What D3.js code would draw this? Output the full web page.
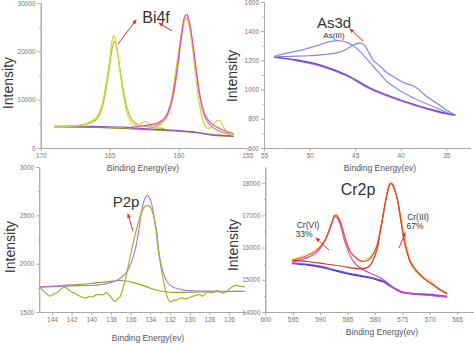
<!DOCTYPE html>
<html>
<head>
<meta charset="utf-8">
<script src="https://cdn.jsdelivr.net/npm/d3@7"></script>
<style>
  body { margin: 0; background: #fff; }
  svg { display: block; font-family: "Liberation Sans", Arial, sans-serif; }
  .axis .domain, .axis line { stroke: #aaa; stroke-width: 1; }
  .axis text { fill: #777; font-size: 6.5px; }
  .ytitle { fill: #333; font-size: 14px; }
  .xtitle { fill: #555; font-size: 8.5px; }
</style>
</head>
<body>
<svg id="chart" width="474" height="344"></svg>
<script>
// ---- Bi4f (top left) ----
const biRaw = [[169,4300],[168,4500],[167,4800],[166.5,5300],[166,6200],[165.6,8500],[165.3,12500],[165,18000],[164.8,22500],[164.7,23300],[164.55,22000],[164.3,17000],[164,11000],[163.7,7000],[163.4,5200],[163.1,4700],[162.8,4900],[162.5,5500],[162.2,5200],[161.9,4500],[161.6,4300],[161.3,4800],[161,6000],[160.6,9000],[160.3,14000],[160,20000],[159.7,25000],[159.5,26800],[159.35,26500],[159.1,23000],[158.8,16000],[158.5,9500],[158.2,5500],[157.9,4100],[157.6,4300],[157.3,5500],[157,5700],[156.7,4200],[156.4,3000],[156,2600]];
const biFit1 = [[169,4400],[167.5,4600],[166.5,5100],[166,5800],[165.6,7800],[165.3,11500],[165,17000],[164.8,20800],[164.65,22000],[164.5,21000],[164.3,17300],[164,12000],[163.7,8000],[163.3,5600],[162.8,4700],[162,4300],[161,4000]];
const biFit2 = [[163.5,4300],[162.5,4600],[161.5,5200],[161,6200],[160.6,8600],[160.3,12600],[160,18500],[159.75,24000],[159.55,27200],[159.4,27600],[159.25,26600],[159,22500],[158.7,16000],[158.4,10200],[158.1,7000],[157.7,5300],[157.2,4300],[156.5,3400],[156,3000]];
const biFit2b = [[162,4200],[161,5800],[160.6,8300],[160.3,12000],[160,18000],[159.75,23500],[159.55,26500],[159.4,26900],[159.25,26000],[159,22000],[158.7,15500],[158.4,9800],[158.1,6500],[157.7,4700],[157.2,3700],[156.5,3000],[156,2700]];
const biBg1 = [[169,4500],[167,4500],[165,4400],[164,4300],[163,4100],[162,3900],[161,3750],[160,3600],[159,3400],[158,2950],[157,2650],[156,2500]];
const biBg2 = [[169,4350],[166,4250],[164.5,4100],[163,3900],[161,3650],[160,3500],[158.5,3100],[157.5,2600],[156,2400]];

// ---- As3d (top right) ----
const asRaw = [[53.9,1225],[52,1228],[50,1232],[48.5,1240],[47,1252],[46,1275],[45.5,1295],[44.8,1315],[44.4,1318],[44,1305],[43.5,1255],[43,1200],[42.2,1157],[41.5,1115],[40.7,1085],[39.6,1045],[38.7,1028],[38,1000],[37.4,965],[36.5,925],[36,905],[35,860],[34,826]];
const asFit = [[53.9,1228],[52.5,1250],[50.6,1275],[49,1305],[47.8,1328],[46.8,1335],[46,1325],[45.1,1296],[44.3,1250],[43.3,1180],[42.3,1110],[41.5,1054],[40.5,1010],[39.6,975],[38,925],[36,872],[35,845],[34,826]];
const asBg1 = [[53.9,1225],[51.4,1203],[48.8,1168],[45.9,1100],[43.3,1009],[40,929],[36,853],[34,826]];
const asBg2 = [[53.9,1220],[51.4,1197],[48.8,1161],[45.9,1093],[43.3,1002],[40,922],[36,847],[34,821]];

// ---- P2p (bottom left) ----
const pRaw = [[145.2,1758],[144.7,1700],[144.2,1665],[143.8,1690],[143.5,1700],[143.1,1735],[142.7,1758],[142.3,1730],[142,1706],[141.6,1690],[141.2,1665],[140.6,1644],[140.2,1660],[139.9,1655],[139.6,1672],[139.3,1679],[138.8,1679],[138.5,1700],[138.3,1689],[137.9,1640],[137.6,1610],[137.3,1640],[137.1,1655],[136.7,1775],[136.3,1947],[135.8,2189],[135.1,2465],[134.6,2586],[134.2,2603],[133.9,2568],[133.4,2362],[133.1,2086],[132.7,1844],[132.2,1637],[131.9,1603],[131.6,1625],[131.4,1620],[130.9,1644],[130.4,1637],[129.9,1655],[129.4,1672],[129,1680],[128.7,1665],[128.2,1706],[127.7,1700],[127.3,1720],[127,1713],[126.6,1695],[126.3,1706],[125.7,1758],[125.3,1775],[124.8,1765],[124.4,1760]];
const pFit = [[145.2,1760],[142,1770],[139.1,1782],[137.4,1827],[136.8,1870],[136.3,1930],[135.6,2120],[135.2,2330],[134.9,2534],[134.6,2660],[134.3,2706],[134,2660],[133.7,2534],[133.4,2330],[133.2,2155],[132.7,1913],[132.2,1800],[131.7,1758],[130.4,1724],[128,1715],[125.3,1713],[124.4,1712]];
const pComp = [[145.2,1758],[142,1780],[140,1795],[138.5,1812],[137.2,1826],[136.3,1818],[135.5,1798],[134.5,1765],[133.5,1730],[132.7,1712],[131.5,1704],[129,1707],[125.3,1713],[124.4,1714]];

// ---- Cr2p (bottom right) ----
const crEnv = [[595.1,15600],[593,15705],[590.6,15912],[589.1,16222],[588.3,16550],[587.8,16791],[587.4,16980],[587,16990],[586.3,16791],[585.7,16450],[585.1,16118],[584.4,15850],[583.6,15705],[582.4,15571],[581.5,15590],[580.9,15654],[580.2,15820],[579.6,16067],[579,16550],[578.4,17101],[577.8,17650],[577.2,17990],[576.9,17979],[576.4,17800],[575.9,17513],[575.3,16900],[574.7,16273],[574.1,15850],[573.5,15550],[572.5,15300],[571.6,15137],[570.5,14980],[569.2,14828],[568,14680],[566.8,14568]];
const crIII = [[595.1,15600],[592,15560],[589,15490],[586,15420],[584,15360],[582.5,15340],[581,15420],[580.2,15650],[579.6,15950],[579,16500],[578.4,17080],[577.8,17640],[577.2,17980],[576.9,17970],[576.4,17790],[575.9,17500],[575.3,16890],[574.7,16260],[574.1,15840],[573.5,15540],[572.5,15290],[571.6,15130],[570.5,14970],[569.2,14820],[568,14675],[566.8,14565]];
const crRaw = [[595.1,15640],[593,15750],[591,15900],[589.5,16150],[588.5,16500],[587.8,16850],[587.3,17060],[586.9,17040],[586.3,16820],[585.6,16400],[585,16100],[584.2,15800],[583.3,15640],[582.5,15600],[581.6,15630],[581,15700],[580.3,15850],[579.6,16100],[579,16580],[578.4,17150],[577.8,17700],[577.3,18050],[576.9,18020],[576.3,17750],[575.8,17400],[575.2,16950],[574.6,16400],[574,15900],[573.4,15500],[572.6,15250],[571.8,15120],[571,15020],[570.2,15000],[569.8,14990],[569.3,14860],[568.5,14750],[567.5,14650],[566.8,14600]];
const crVI = [[595.1,15550],[593,15650],[591,15800],[589.5,16100],[588.5,16450],[587.8,16780],[587.4,16950],[587,16940],[586.3,16700],[585.6,16250],[585,15950],[584.2,15650],[583.3,15450],[582,15300],[580.5,15180],[579,15060],[578,14950],[577,14800],[576,14680],[575,14610],[573,14560],[571,14530],[566.8,14470]];
const crBg1 = [[595.1,15498],[592.5,15460],[590,15395],[587.5,15290],[585.1,15189],[583,15120],[580.9,15054],[579.5,14990],[578.4,14930],[577.2,14800],[575.9,14671],[574.7,14589],[573,14555],[571,14537],[568.5,14500],[566.8,14465]];
const crBg2 = [[595.1,15525],[592.5,15487],[590,15422],[587.5,15317],[585.1,15216],[583,15147],[580.9,15081],[579.5,15017],[578.4,14957],[577.2,14827],[575.9,14698],[574.7,14616],[573,14582],[571,14564],[568.5,14527],[566.8,14492]];

// tick values
const biXTicks = [170, 165, 160, 155], biXMinor = [167.5, 162.5, 157.5];
const biYTicks = [0, 10000, 20000, 30000], biYMinor = [5000, 15000, 25000];
const asXTicks = [55, 50, 45, 40, 35], asXMinor = [52.5, 47.5, 42.5, 37.5, 32.5];
const asYTicks = [600, 800, 1000, 1200, 1400, 1600], asYMinor = [700, 900, 1100, 1300, 1500];
const pXTicks = [144, 142, 140, 138, 136, 134, 132, 130, 128, 126], pXMinor = [145, 143, 141, 139, 137, 135, 133, 131, 129, 127, 125];
const pYTicks = [1500, 2000, 2500, 3000], pYMinor = [1750, 2250, 2750];
const crXTicks = [600, 595, 590, 585, 580, 575, 570, 565], crXMinor = [597.5, 592.5, 587.5, 582.5, 577.5, 572.5, 567.5, 562.5];
const crYTicks = [14000, 15000, 16000, 17000, 18000], crYMinor = [14500, 15500, 16500, 17500];

const svg = d3.select('#chart');
const red = '#e03232';

svg.append('defs').append('marker')
  .attr('id', 'arrow')
  .attr('viewBox', '0 0 10 10')
  .attr('refX', 8).attr('refY', 5)
  .attr('markerWidth', 5).attr('markerHeight', 5)
  .attr('orient', 'auto')
  .append('path')
  .attr('d', 'M0,1 L10,5 L0,9 Z')
  .attr('fill', red);

const panels = [
  {
    xDom: [170, 155.1], xRange: [40.7, 246], yDom: [0, 30000], yRange: [148, 3],
    xTicks: biXTicks, xMinor: biXMinor, yTicks: biYTicks, yMinor: biYMinor,
    yTitle: [8, 83], xTitle: [143, 171],
    series: [
      { d: biBg2, c: '#8c8a2e' }, { d: biBg1, c: '#a04cc0' },
      { d: biFit2b, c: '#e0923a' }, { d: biFit1, c: '#b4bc2a' },
      { d: biRaw, c: '#cfdc2a' }, { d: biFit2, c: '#e048e4' }
    ]
  },
  {
    xDom: [55, 32.4], xRange: [264, 470], yDom: [600, 1600], yRange: [148, 2],
    xTicks: asXTicks, xMinor: asXMinor, yTicks: asYTicks, yMinor: asYMinor,
    yTitle: [232, 76], xTitle: [380, 171],
    series: [
      { d: asBg2, c: '#9a74e4' }, { d: asBg1, c: '#7438c8' },
      { d: asFit, c: '#8c8ce8' }, { d: asRaw, c: '#8282e6' }
    ]
  },
  {
    xDom: [145.3, 124.3], xRange: [39.2, 245.7], yDom: [1500, 3000], yRange: [312, 167],
    xTicks: pXTicks, xMinor: pXMinor, yTicks: pYTicks, yMinor: pYMinor,
    yTitle: [10, 247], xTitle: [148, 341],
    series: [
      { d: pComp, c: '#8aa824' }, { d: pFit, c: '#b474f2' }, { d: pRaw, c: '#9cb52a' }
    ]
  },
  {
    xDom: [600, 562], xRange: [265.3, 473.5], yDom: [14000, 18500], yRange: [312, 167],
    xTicks: crXTicks, xMinor: crXMinor, yTicks: crYTicks, yMinor: crYMinor,
    yTitle: [233, 245], xTitle: [382, 335],
    series: [
      { d: crBg2, c: '#a848e0' }, { d: crBg1, c: '#3a3ad4' },
      { d: crRaw, c: '#f7dc74' }, { d: crVI, c: '#e044d4' },
      { d: crIII, c: '#d8321e' }, { d: crEnv, c: '#ec4a30' }
    ]
  }
];

panels.forEach((p) => {
  const x = d3.scaleLinear().domain(p.xDom).range(p.xRange);
  const y = d3.scaleLinear().domain(p.yDom).range(p.yRange);
  const g = svg.append('g');

  // minor ticks first, then major axis
  g.append('g').attr('class', 'axis')
    .attr('transform', `translate(0,${p.yRange[0]})`)
    .call(d3.axisBottom(x).tickValues(p.xMinor.filter((v) => v >= Math.min(...p.xDom) && v <= Math.max(...p.xDom)))
      .tickSize(1.5).tickSizeOuter(0).tickFormat(''));
  g.append('g').attr('class', 'axis')
    .attr('transform', `translate(0,${p.yRange[0]})`)
    .call(d3.axisBottom(x).tickValues(p.xTicks).tickSize(3).tickSizeOuter(0).tickPadding(2).tickFormat(d3.format('d')));

  g.append('g').attr('class', 'axis')
    .attr('transform', `translate(${p.xRange[0]},0)`)
    .call(d3.axisLeft(y).tickValues(p.yMinor).tickSize(1.5).tickSizeOuter(0).tickFormat(''));
  g.append('g').attr('class', 'axis')
    .attr('transform', `translate(${p.xRange[0]},0)`)
    .call(d3.axisLeft(y).tickValues(p.yTicks).tickSize(3).tickSizeOuter(0).tickPadding(2).tickFormat(d3.format('d')));

  g.append('text').attr('class', 'ytitle')
    .attr('transform', `translate(${p.yTitle[0]},${p.yTitle[1]}) rotate(-90)`)
    .attr('text-anchor', 'middle')
    .attr('dy', '0.35em')
    .text('Intensity');

  g.append('text').attr('class', 'xtitle')
    .attr('x', p.xTitle[0]).attr('y', p.xTitle[1])
    .attr('text-anchor', 'middle')
    .text('Binding Energy(ev)');

  const line = d3.line()
    .x((d) => x(d[0]))
    .y((d) => y(d[1]))
    .curve(d3.curveCatmullRom.alpha(0.5));

  p.series.forEach((s) => {
    g.append('path')
      .attr('d', line(s.d))
      .attr('fill', 'none')
      .attr('stroke', s.c)
      .attr('stroke-width', 1.2);
  });
});

// annotations
const labels = [
  { t: 'Bi4f', x: 156, y: 23, s: 16 },
  { t: 'As3d', x: 334, y: 28, s: 15 },
  { t: 'As(III)', x: 334, y: 38, s: 8 },
  { t: 'P2p', x: 126, y: 207, s: 15 },
  { t: 'Cr2p', x: 358, y: 195, s: 16 },
  { t: 'Cr(VI)', x: 308, y: 228, s: 8.5 },
  { t: '33%', x: 304, y: 237, s: 8.5 },
  { t: 'Cr(III)', x: 418, y: 220, s: 8.5 },
  { t: '67%', x: 415, y: 229, s: 8.5 }
];
svg.append('g').selectAll('text').data(labels).join('text')
  .attr('x', (d) => d.x).attr('y', (d) => d.y)
  .attr('text-anchor', 'middle')
  .style('font-size', (d) => d.s + 'px')
  .attr('fill', '#333')
  .text((d) => d.t);

const arrows = [
  [118, 44, 136, 20], [172, 31, 159, 23], [363, 41, 350, 29],
  [133, 231, 128, 214], [329, 250, 316, 238], [399, 248, 405, 233]
];
svg.append('g').selectAll('line').data(arrows).join('line')
  .attr('x1', (d) => d[0]).attr('y1', (d) => d[1])
  .attr('x2', (d) => d[2]).attr('y2', (d) => d[3])
  .attr('stroke', red).attr('stroke-width', 1)
  .attr('marker-end', 'url(#arrow)');
</script>
</body>
</html>
